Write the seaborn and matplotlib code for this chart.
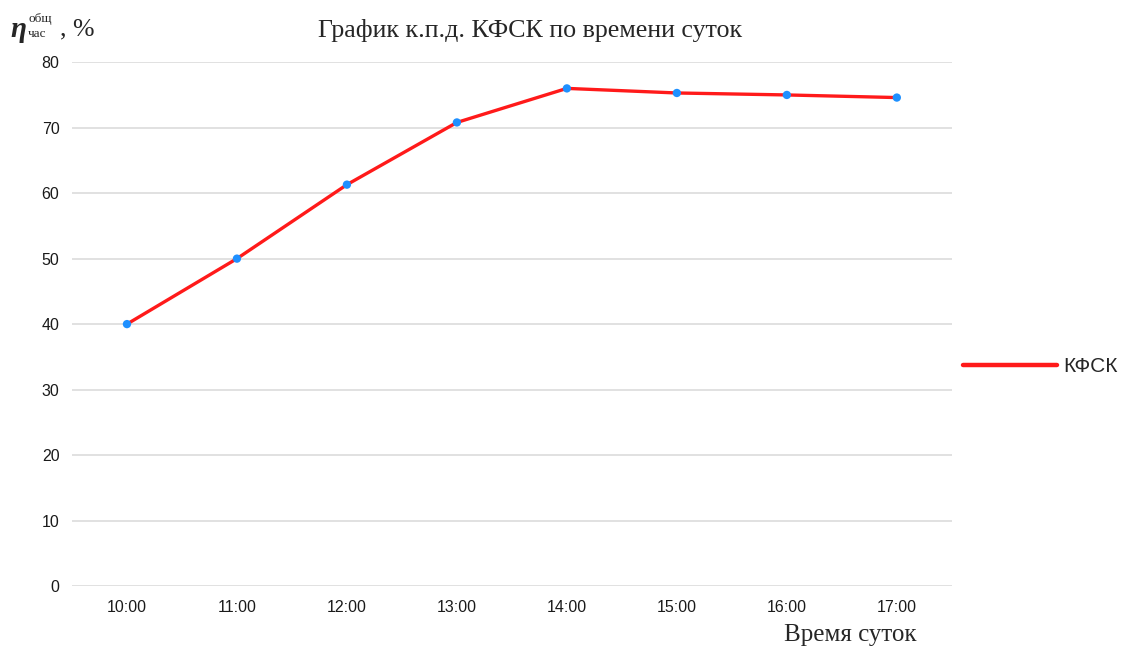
import matplotlib
matplotlib.use("Agg")
import matplotlib.pyplot as plt
import seaborn as sns
import pandas as pd
from matplotlib.lines import Line2D

# данные
hours = ["10:00", "11:00", "12:00", "13:00", "14:00", "15:00", "16:00", "17:00"]
kpd = [40.0, 50.0, 61.3, 70.8, 76.0, 75.3, 75.0, 74.6]
y_ticks = [0, 10, 20, 30, 40, 50, 60, 70, 80]

df = pd.DataFrame({"Время": hours, "КФСК": kpd})

sns.set_style("white")
plt.rcParams["font.family"] = ["Liberation Sans", "DejaVu Sans"]
serif = ["Liberation Serif", "DejaVu Serif"]

fig = plt.figure(figsize=(11.28, 6.48), dpi=100)
ax = fig.add_axes([0.0638, 0.0957, 0.780, 0.8083])

sns.lineplot(data=df, x="Время", y="КФСК", color="#ff1a1a", linewidth=2.4, ax=ax, sort=False)
sns.scatterplot(data=df, x="Время", y="КФСК", color="#1e90ff", s=36, edgecolor="none", zorder=3, ax=ax)

ax.set_xlim(-0.5, len(hours) - 0.5)
ax.set_ylim(0, 80)
ax.set_yticks(y_ticks)
ax.yaxis.grid(True, color="#dcdcdc", linewidth=1.2)
ax.set_axisbelow(True)
for s in ax.spines.values():
    s.set_visible(False)
ax.tick_params(axis="both", length=0, labelsize=11.5, colors="#1a1a1a")
ax.tick_params(axis="y", pad=9)
ax.tick_params(axis="x", pad=10)
ax.set_xlabel("")
ax.set_ylabel("")

# заголовок и подписи осей
fig.text(0.47, 0.953, "График к.п.д. КФСК по времени суток", ha="center", va="center",
         fontsize=18.7, family=serif)
fig.text(0.754, 0.02, "Время суток", ha="center", va="center",
         fontsize=18, family=serif)

fig.text(0.009, 0.955, "η", ha="left", va="center", fontsize=21, style="italic",
         weight="bold", family=serif)
fig.text(0.025, 0.971, "общ", ha="left", va="center", fontsize=9.5, family=serif)
fig.text(0.025, 0.947, "час", ha="left", va="center", fontsize=9.5, family=serif)
fig.text(0.053, 0.955, ", %", ha="left", va="center", fontsize=18.5, family=serif)

# легенда справа
handle = Line2D([0], [0], color="#ff1a1a", linewidth=3.2)
fig.legend([handle], ["КФСК"], loc="center left", bbox_to_anchor=(0.837, 0.434),
           frameon=False, fontsize=15, handlelength=4.5, handletextpad=0.3)

fig.savefig("out.png", dpi=100)
